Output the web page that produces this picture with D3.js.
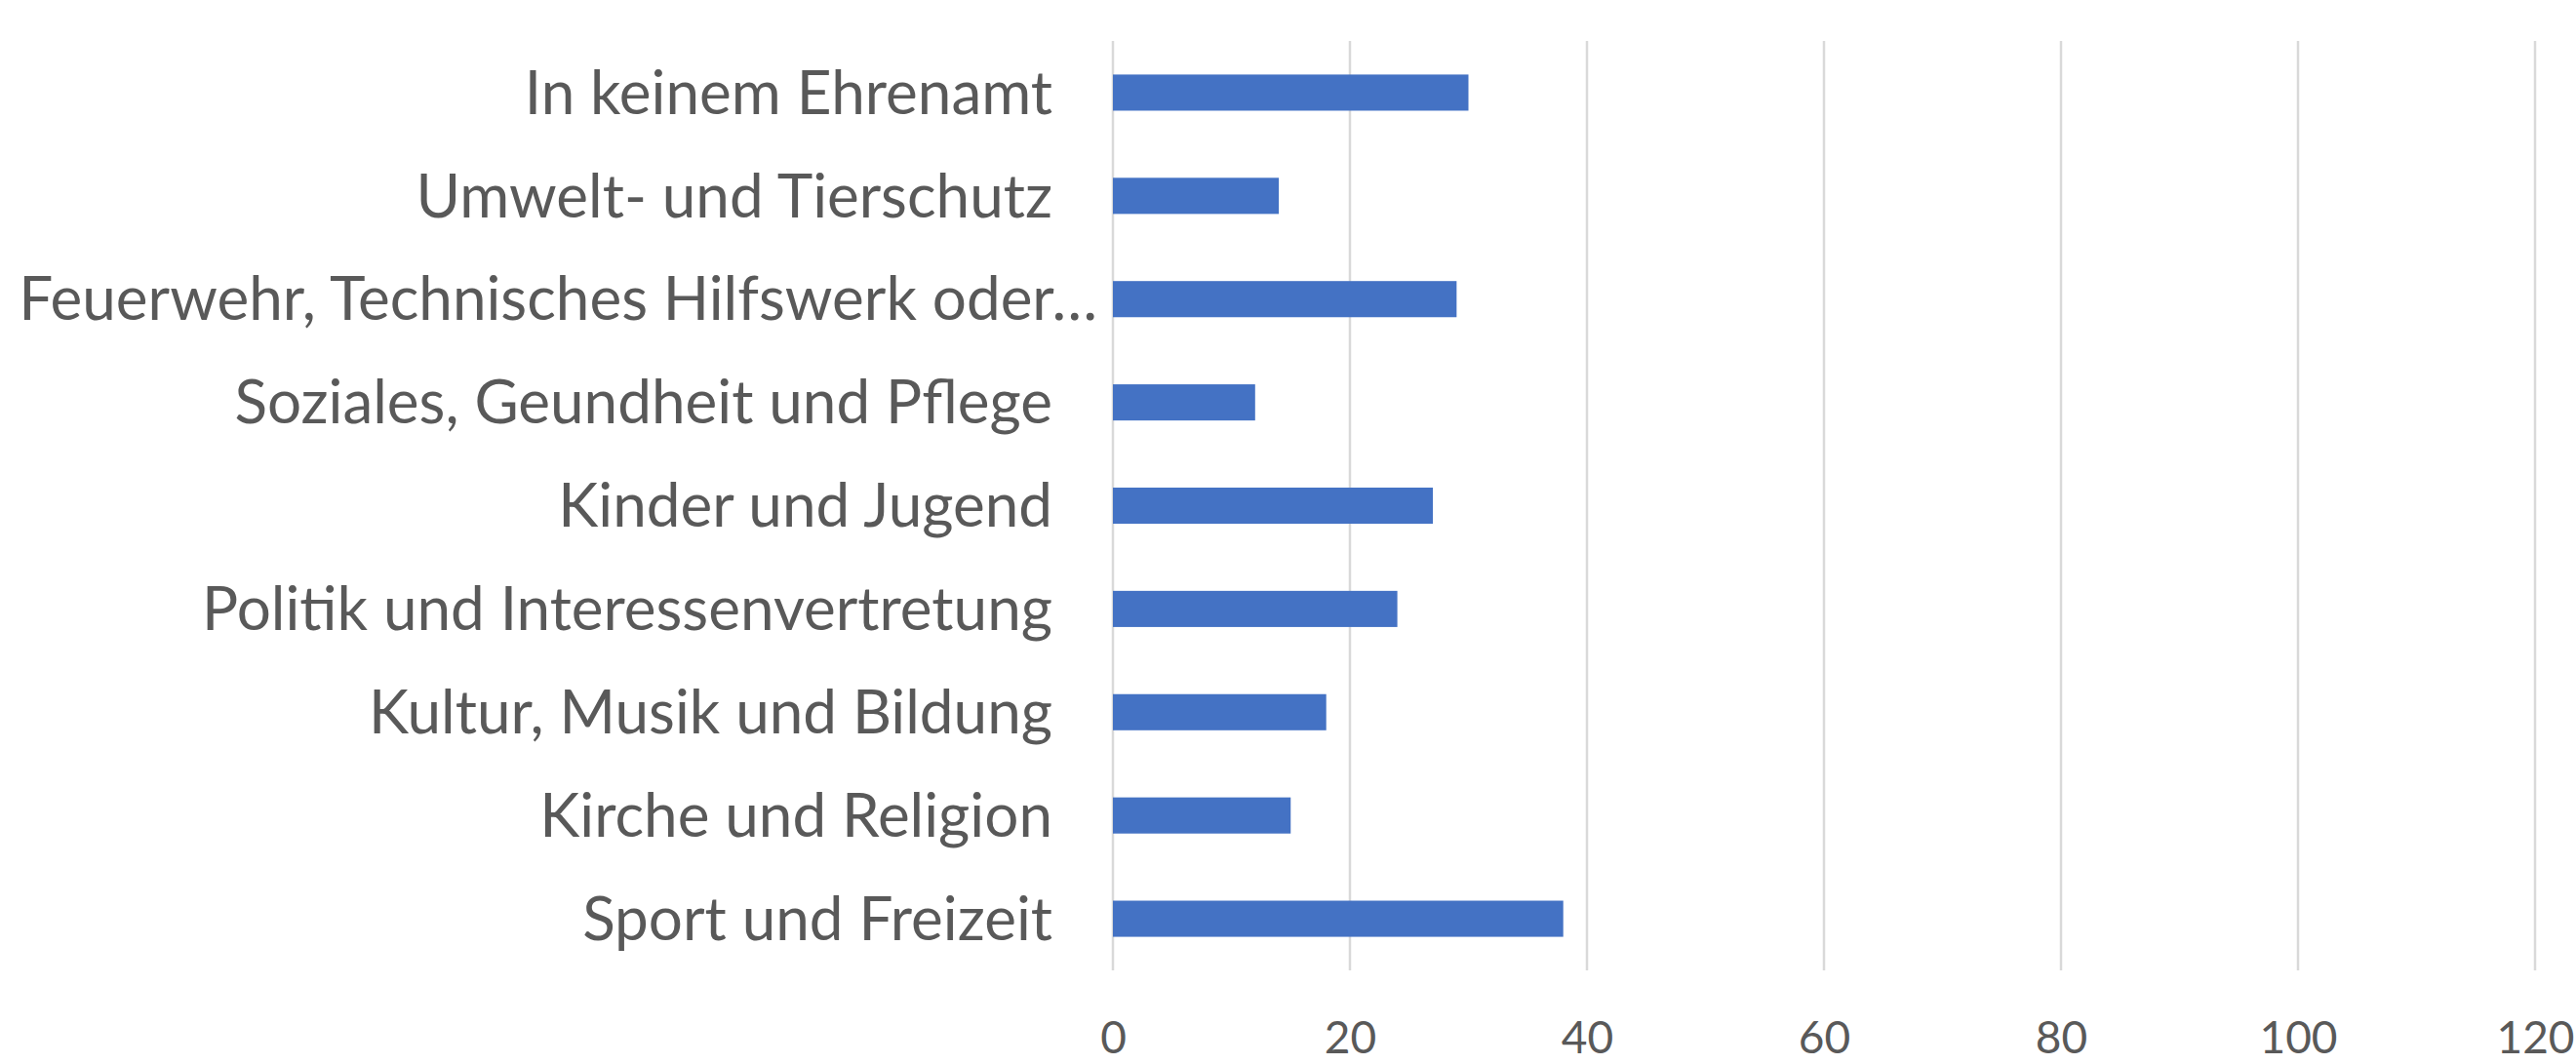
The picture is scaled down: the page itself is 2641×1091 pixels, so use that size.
<!DOCTYPE html>
<html>
<head>
<meta charset="utf-8">
<script src="https://cdn.jsdelivr.net/npm/d3@7"></script>
<style>
  body { margin: 0; background: #fff; }
  svg text { font-family: Lato, "Open Sans", sans-serif; fill: #595959; }
</style>
</head>
<body>
<div id="chart"></div>
<script>
// categories top to bottom
const categories = [
    'In keinem Ehrenamt',
    'Umwelt- und Tierschutz',
    'Feuerwehr, Technisches Hilfswerk oder…',
    'Soziales, Geundheit und Pflege',
    'Kinder und Jugend',
    'Politik und Interessenvertretung',
    'Kultur, Musik und Bildung',
    'Kirche und Religion',
    'Sport und Freizeit'
];
const values = [30, 14, 29, 12, 27, 24, 18, 15, 38];
const xTicks = [0, 20, 40, 60, 80, 100, 120];

const svgWidth = 2641;
const svgHeight = 1091;
const plot = { left: 1141, right: 2599, top: 42, bottom: 995 };

const chartData = categories.map((c, i) => ({ name: c, value: values[i] }));

const svg = d3.select('#chart')
    .append('svg')
    .attr('width', svgWidth)
    .attr('height', svgHeight);

const xScale = d3.scaleLinear()
    .domain([0, 120])
    .range([plot.left, plot.right]);
const yScale = d3.scaleBand()
    .domain(categories)
    .range([plot.top, plot.bottom])
    .paddingInner(0.65)
    .paddingOuter(0.325);

// vertical gridlines
svg.append('g')
    .selectAll('line')
    .data(xTicks)
    .enter()
    .append('line')
    .attr('x1', d => xScale(d))
    .attr('x2', d => xScale(d))
    .attr('y1', plot.top)
    .attr('y2', plot.bottom)
    .attr('stroke', '#d9d9d9')
    .attr('stroke-width', 2.5);

svg.selectAll('rect')
    .data(chartData)
    .enter()
    .append('rect')
    .attr('x', xScale(0))
    .attr('y', d => yScale(d.name))
    .attr('width', d => xScale(d.value) - xScale(0))
    .attr('height', yScale.bandwidth())
    .attr('fill', '#4472c4');

// category labels
const yAxis = d3.axisLeft(yScale).tickSize(0).tickPadding(62);
const gy = svg.append('g')
    .attr('transform', `translate(${plot.left},0)`)
    .call(yAxis);
gy.select('.domain').remove();
gy.selectAll('text')
    .style('font-size', '62px')
    .attr('dy', '0.35em')
    .each(function() {
        // truncated label runs a bit closer to the axis, like in Excel
        const box = this.getBBox();
        if (plot.left + box.x < 30) {
            d3.select(this).attr('x', -16);
        }
    });

// value axis labels
const xAxis = d3.axisBottom(xScale).tickValues(xTicks).tickSize(0).tickPadding(52);
const gx = svg.append('g')
    .attr('transform', `translate(0,${plot.bottom})`)
    .call(xAxis);
gx.select('.domain').remove();
gx.selectAll('text')
    .style('font-size', '46px')
    .attr('dy', '0.71em');
</script>
</body>
</html>
